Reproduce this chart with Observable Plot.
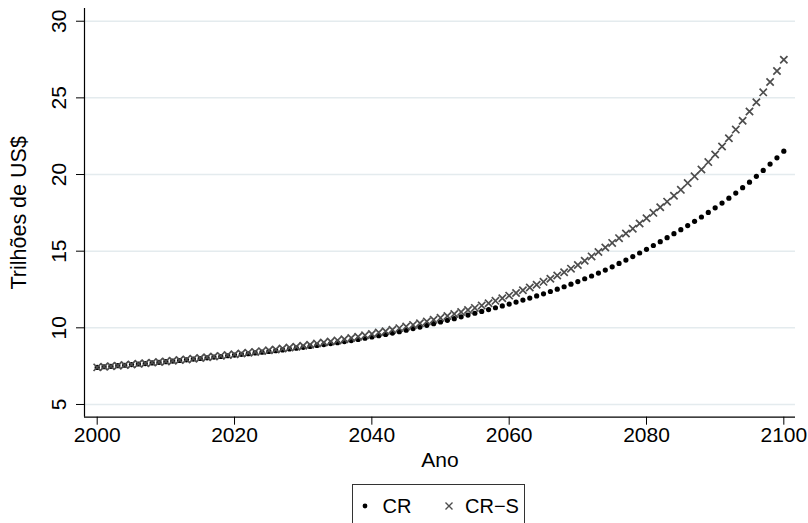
<!DOCTYPE html>
<html>
<head>
<meta charset="utf-8">
<script src="https://cdn.jsdelivr.net/npm/d3@7"></script>
<script src="https://cdn.jsdelivr.net/npm/@observablehq/plot@0.6"></script>
<style>
  html, body { margin: 0; padding: 0; background: #fff; }
  #wrap { position: relative; width: 808px; height: 523px; overflow: hidden; font-family: "Liberation Sans", Arial, sans-serif; }
  #legend { position: absolute; left: 352px; top: 484px; }
</style>
</head>
<body>
<div id="wrap">
  <div id="chart"></div>
  <svg id="legend" width="174" height="42"></svg>
</div>
<script>
const years = [2000,2001,2002,2003,2004,2005,2006,2007,2008,2009,
2010,2011,2012,2013,2014,2015,2016,2017,2018,2019,
2020,2021,2022,2023,2024,2025,2026,2027,2028,2029,
2030,2031,2032,2033,2034,2035,2036,2037,2038,2039,
2040,2041,2042,2043,2044,2045,2046,2047,2048,2049,
2050,2051,2052,2053,2054,2055,2056,2057,2058,2059,
2060,2061,2062,2063,2064,2065,2066,2067,2068,2069,
2070,2071,2072,2073,2074,2075,2076,2077,2078,2079,
2080,2081,2082,2083,2084,2085,2086,2087,2088,2089,
2090,2091,2092,2093,2094,2095,2096,2097,2098,2099,2100];

const crValues = [7.42,7.46,7.49,7.53,7.56,7.60,7.64,7.67,7.71,7.75,
7.79,7.83,7.87,7.91,7.96,8.00,8.04,8.09,8.13,8.18,
8.22,8.27,8.31,8.36,8.41,8.46,8.51,8.56,8.62,8.67,
8.73,8.79,8.85,8.91,8.97,9.03,9.10,9.17,9.24,9.32,
9.40,9.49,9.57,9.66,9.75,9.85,9.95,10.05,10.16,10.27,
10.38,10.49,10.60,10.72,10.83,10.95,11.07,11.19,11.31,11.43,
11.55,11.68,11.81,11.94,12.08,12.22,12.37,12.52,12.68,12.85,
13.02,13.20,13.38,13.57,13.77,13.98,14.20,14.42,14.65,14.88,
15.12,15.37,15.62,15.88,16.14,16.40,16.67,16.95,17.23,17.53,
17.83,18.14,18.46,18.79,19.14,19.50,19.88,20.27,20.68,21.09,21.52];

const crsValues = [7.42,7.46,7.50,7.53,7.57,7.61,7.65,7.69,7.73,7.77,
7.81,7.85,7.90,7.94,7.99,8.03,8.08,8.13,8.17,8.22,
8.27,8.32,8.38,8.43,8.48,8.53,8.59,8.65,8.71,8.77,
8.83,8.90,8.97,9.04,9.11,9.18,9.26,9.34,9.42,9.51,
9.60,9.69,9.78,9.88,9.98,10.08,10.19,10.30,10.41,10.53,
10.65,10.77,10.90,11.03,11.16,11.30,11.45,11.60,11.76,11.93,
12.10,12.27,12.45,12.63,12.81,13.00,13.20,13.41,13.63,13.86,
14.10,14.38,14.66,14.95,15.24,15.54,15.85,16.15,16.47,16.80,
17.15,17.50,17.86,18.23,18.61,19.00,19.44,19.88,20.33,20.81,
21.31,21.83,22.37,22.93,23.51,24.11,24.72,25.36,26.04,26.75,27.49];

const seriesNames = ["CR", "CR\u2212S"];
const xTicks = [2000, 2020, 2040, 2060, 2080, 2100];
const yTicks = [5, 10, 15, 20, 25, 30];
const xLabel = "Ano";
const yLabel = "Trilhões de US$";

const xDomain = [1998.15, 2101.7];
const yDomain = [4.17, 30.83];

const crData = years.map((year, i) => ({year, value: crValues[i], series: seriesNames[0]}));
const crsData = years.map((year, i) => ({year, value: crsValues[i], series: seriesNames[1]}));

const gridColor = "#e4ebee";
const crossColor = "#4d4d4d";

const chart = Plot.plot({
  width: 808,
  height: 480,
  marginLeft: 84,
  marginRight: 13,
  marginTop: 8,
  marginBottom: 63.3,
  style: {fontFamily: "Liberation Sans, Arial, sans-serif", fontSize: "21px", background: "#fff", color: "#000"},
  x: {domain: xDomain},
  y: {domain: yDomain},
  marks: [
    Plot.gridY(yTicks, {stroke: gridColor, strokeOpacity: 1, strokeWidth: 1.5}),
    Plot.axisX(xTicks, {tickSize: 8, tickPadding: 2, fontSize: 21, label: null, tickFormat: d => String(d)}),
    Plot.axisY(yTicks, {tickSize: 8, label: null, tickFormat: () => ""}),
    Plot.text(yTicks, {y: d => d, text: d => String(d), frameAnchor: "left", dx: -25, rotate: -90, textAnchor: "middle", lineAnchor: "middle", fontSize: 21}),
    Plot.text([yLabel], {text: d => d, frameAnchor: "left", dx: -65, rotate: -90, textAnchor: "middle", lineAnchor: "middle", fontSize: 21.5}),
    Plot.text([xLabel], {text: d => d, frameAnchor: "bottom", dy: 35, textAnchor: "middle", lineAnchor: "top", fontSize: 21}),
    Plot.ruleX([xDomain[0]], {stroke: "#000", strokeWidth: 1.2}),
    Plot.ruleY([yDomain[0]], {stroke: "#000", strokeWidth: 1.2}),
    Plot.dot(crData, {x: "year", y: "value", r: 2.6, fill: "#000", stroke: null}),
    Plot.dot(crsData, {x: "year", y: "value", r: 3.4, symbol: "times", stroke: crossColor, strokeWidth: 1.7})
  ]
});
document.getElementById("chart").appendChild(chart);

// Legend
const lg = d3.select("#legend");
lg.append("rect").attr("x", 0.5).attr("y", 0.5).attr("width", 172).attr("height", 44)
  .attr("fill", "#fff").attr("stroke", "#333").attr("stroke-width", 1);
lg.append("circle").attr("cx", 13).attr("cy", 22).attr("r", 2.4).attr("fill", "#000");
lg.append("text").attr("x", 30.5).attr("y", 29.3).attr("font-size", 20)
  .attr("font-family", "Liberation Sans, Arial, sans-serif").text(seriesNames[0]);
lg.append("path").attr("d", "M93.5,18.5L100.5,25.5M100.5,18.5L93.5,25.5")
  .attr("stroke", crossColor).attr("stroke-width", 1.4).attr("fill", "none");
lg.append("text").attr("x", 113).attr("y", 29.3).attr("font-size", 20)
  .attr("font-family", "Liberation Sans, Arial, sans-serif").text(seriesNames[1]);
</script>
</body>
</html>
